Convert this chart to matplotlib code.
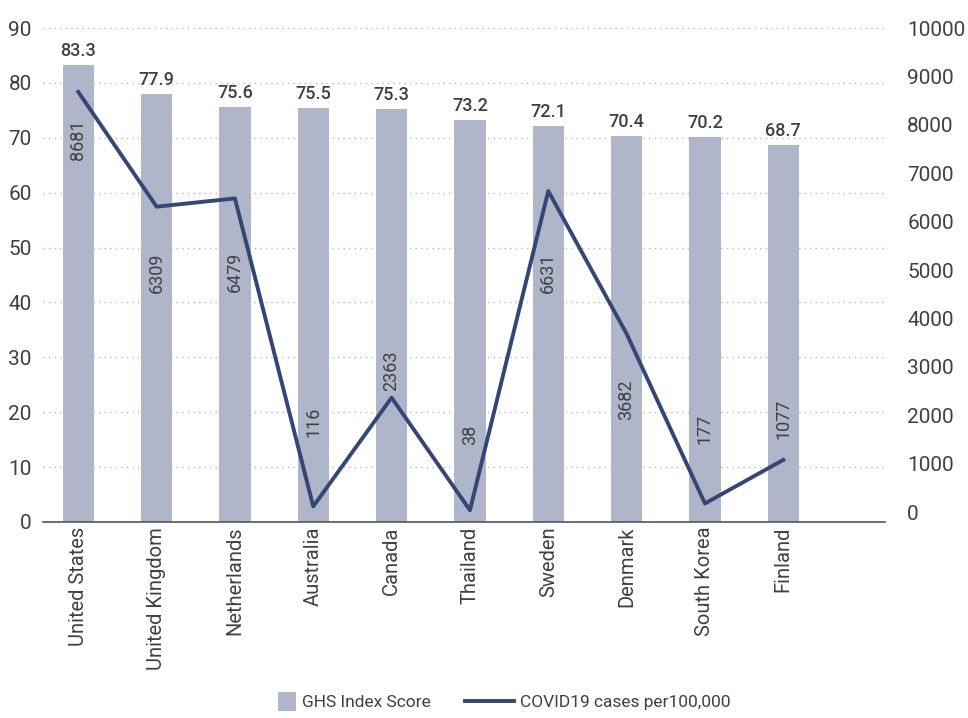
import numpy as np
import matplotlib.pyplot as plt
from matplotlib.patches import Rectangle
from matplotlib.legend_handler import HandlerBase

plt.rcParams['font.family'] = ['Roboto', 'DejaVu Sans']

countries = ['United States', 'United Kingdom', 'Netherlands', 'Australia', 'Canada',
             'Thailand', 'Sweden', 'Denmark', 'South Korea', 'Finland']
ghs_score = [83.3, 77.9, 75.6, 75.5, 75.3, 73.2, 72.1, 70.4, 70.2, 68.7]
covid_cases = [8681, 6309, 6479, 116, 2363, 38, 6631, 3682, 177, 1077]

# vertical nudge (pixels) for the rotated case labels
case_label_dy = [-48, -66, -73, 85, 27, 75, -82, -66, 75, 41]

bar_color = '#afb6ca'
line_color = '#344676'
text_color = '#404040'


class SquareHandler(HandlerBase):
    # draw the bar's legend key as a small square
    def create_artists(self, legend, orig_handle, xdescent, ydescent,
                       width, height, fontsize, trans):
        side = height * 1.5
        p = Rectangle((width - side - xdescent, -ydescent - (side - height) / 2), side, side,
                      facecolor=orig_handle.patches[0].get_facecolor(), edgecolor='none',
                      transform=trans)
        return [p]


fig = plt.figure(figsize=(9.68, 7.18), dpi=100)
ax = fig.add_axes([0.0444, 0.273, 0.870, 0.688])
x = np.arange(len(countries))

bars = ax.bar(x, ghs_score, width=0.4, color=bar_color, zorder=2, label='GHS Index Score')
for xi, v in zip(x, ghs_score):
    ax.annotate(f'{v}', (xi, v), xytext=(0, 5), textcoords='offset pixels',
                ha='center', va='bottom', fontsize=13, fontweight=500, color=text_color)

ax.set_ylim(0, 90)
ax.set_yticks(range(0, 91, 10))
ax.set_xlim(-0.45, 10.3)
ax.set_xticks(x)
ax.set_xticklabels(countries, rotation=90, fontsize=14.5, color=text_color)
ax.tick_params(axis='both', length=0, labelcolor=text_color)
ax.tick_params(axis='y', pad=8, labelsize=15)
ax.grid(axis='y', linestyle=(0, (1, 3)), color='#b8b8b8', linewidth=1, zorder=0)
for s in ['top', 'right', 'left']:
    ax.spines[s].set_visible(False)
ax.spines['bottom'].set_color('#555555')
ax.spines['bottom'].set_linewidth(1.2)

ax2 = ax.twinx()
ax2.plot(x, covid_cases, color=line_color, linewidth=2.8, zorder=3,
         label='COVID19 cases per100,000')
for xi, v, dy in zip(x, covid_cases, case_label_dy):
    ax2.annotate(f'{v}', (xi, v), xytext=(0, dy), textcoords='offset pixels',
                 ha='center', va='center', rotation=90, fontsize=13, color=text_color)
ax2.set_ylim(-206, 10000)
ax2.set_yticks(range(0, 10001, 1000))
ax2.tick_params(axis='y', length=0, labelsize=15, labelcolor=text_color, pad=16)
for s in ax2.spines.values():
    s.set_visible(False)

h1, l1 = ax.get_legend_handles_labels()
h2, l2 = ax2.get_legend_handles_labels()
fig.legend(h1 + h2, l1 + l2, loc='center', bbox_to_anchor=(0.505, 0.021),
           ncol=2, frameon=False, fontsize=12.5, labelcolor=text_color,
           handlelength=2.8, columnspacing=2.0, handletextpad=0.35,
           handler_map={bars: SquareHandler()})

fig.savefig('out.png', dpi=100)
